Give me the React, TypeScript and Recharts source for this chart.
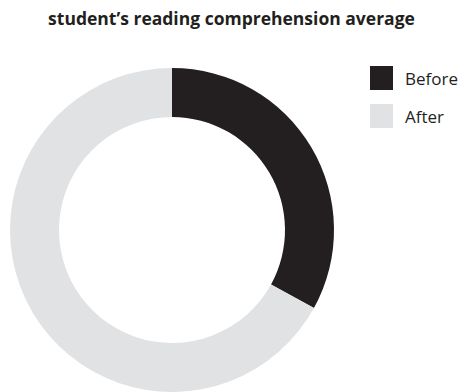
import { Cell, Legend, Pie, PieChart } from 'recharts'

const labels = ['Before', 'After']
const values = [33, 67]
const colors = ['#231f20', '#e1e2e4']

const data = labels.map((name, i) => ({ name, value: values[i] }))

const font = '"Open Sans", "Noto Sans", sans-serif'

function LegendBox() {
  return (
    <div style={{ fontFamily: font }}>
      {labels.map((name, i) => (
        <div key={name} style={{ display: 'flex', alignItems: 'center', height: 24, marginBottom: 14 }}>
          <div style={{ width: 23, height: 24, background: colors[i], marginRight: 12 }} />
          <span style={{ fontSize: 17, color: '#231f20', lineHeight: 1 }}>{name}</span>
        </div>
      ))}
    </div>
  )
}

export default function App() {
  return (
    <div style={{ position: 'absolute', left: 0, top: 0, width: 459, height: 392, background: '#fff' }}>
      <div
        style={{
          position: 'absolute', top: 10, left: 0, width: 463, textAlign: 'center',
          fontFamily: font, fontWeight: 700, fontSize: 17.5, lineHeight: 1, color: '#231f20',
        }}
      >
        student’s reading comprehension average
      </div>
      <PieChart width={459} height={392} margin={{ top: 0, right: 0, bottom: 0, left: 0 }}>
        <Pie
          data={data}
          dataKey="value"
          nameKey="name"
          cx={172}
          cy={230}
          innerRadius={113}
          outerRadius={162}
          startAngle={90}
          endAngle={-270}
          stroke="none"
          isAnimationActive={false}
        >
          {data.map((d, i) => (
            <Cell key={d.name} fill={colors[i]} />
          ))}
        </Pie>
        <Legend
          content={() => <LegendBox />}
          wrapperStyle={{ position: 'absolute', left: 370, top: 66, width: 90 }}
        />
      </PieChart>
    </div>
  )
}
